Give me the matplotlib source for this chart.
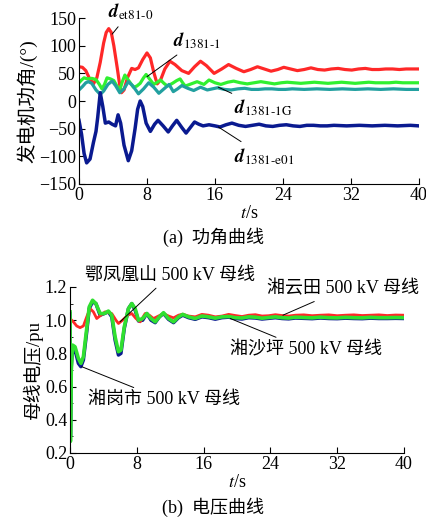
import matplotlib
matplotlib.use("Agg")
import matplotlib.pyplot as plt
from matplotlib.ticker import MultipleLocator

plt.rcParams['font.family'] = ['Liberation Serif', 'Noto Sans CJK SC']
plt.rcParams['mathtext.fontset'] = 'stix'
plt.rcParams['axes.unicode_minus'] = True

# ---- (a) power angle curves ----
t_red = [0, 0.4, 0.8, 1.2, 1.7, 2.1, 2.5, 2.9, 3.2, 3.5, 3.8, 4.1, 4.5, 4.8, 5.0, 5.3, 5.7, 6.2, 6.6, 7.0,
         7.5, 8.0, 8.4, 8.8, 9.2, 9.6, 10.1, 10.7, 11.3, 12.1, 12.9, 13.6, 14.3, 15.0, 15.9, 16.8, 17.6,
         18.5, 19.4, 20.2, 21.0, 21.8, 22.6, 23.4, 24.1, 24.9, 25.7, 26.5, 27.3, 28.1, 28.9, 29.7, 30.5,
         31.3, 32.1, 32.9, 33.7, 34.5, 35.3, 36.1, 36.9, 37.7, 38.5, 39.3, 40]
d_red = [62, 61, 55, 42, 31, 42, 70, 105, 124, 131, 124, 100, 60, 28, 15, 20, 42, 59, 57, 60,
         75, 87, 78, 52, 31, 38, 58, 72, 66, 55, 50, 62, 72, 64, 50, 58, 66,
         59, 53, 57, 62, 58, 54, 57, 61, 58, 55, 57, 60, 57, 56, 58, 59,
         57, 56, 58, 59, 57, 57, 58, 58, 57, 58, 58, 58]

t_grn = [0, 0.3, 0.6, 1.0, 1.5, 2.0, 2.4, 2.7, 3.0, 3.3, 3.7, 4.1, 4.5, 4.8, 5.1, 5.4, 5.8, 6.4, 6.8, 7.2,
         7.6, 7.9, 8.3, 8.8, 9.2, 9.6, 10.0, 10.4, 11.0, 11.5, 11.9, 12.2, 12.5, 13.2, 13.9, 14.7, 15.3,
         16.0, 16.7, 17.5, 18.2, 19.0, 19.8, 20.6, 21.4, 22.2, 23.0, 23.8, 24.5, 25.3, 26.1, 26.9, 27.7,
         28.5, 29.3, 30.1, 30.9, 31.7, 32.5, 33.3, 34.1, 34.9, 35.7, 36.5, 37.3, 38.1, 38.9, 39.7, 40]
d_grn = [33, 38, 42, 40, 41, 39, 30, 22, 30, 42, 40, 37, 26, 20, 35, 47, 38, 25, 27, 32,
         42, 48, 40, 30, 34, 38, 32, 27, 32, 37, 40, 33, 27, 31, 35, 30, 38,
         33, 30, 34, 36, 33, 31, 33, 35, 33, 31, 33, 34, 33, 32, 33, 34,
         33, 32, 33, 34, 33, 32, 33, 34, 33, 33, 33, 34, 33, 33, 33, 33]

t_teal = [0, 0.4, 0.8, 1.1, 1.5, 2.0, 2.5, 2.9, 3.4, 3.9, 4.3, 4.8, 5.3, 5.8, 6.3, 7.0, 7.6, 8.2, 8.8,
          9.4, 10.0, 10.6, 11.1, 11.6, 12.1, 12.8, 13.5, 14.3, 15.1, 15.7, 16.3, 17.1, 17.9, 18.7, 19.5,
          20.3, 21.1, 21.9, 22.7, 23.5, 24.3, 25.1, 26.5, 28.0, 29.5, 31.0, 32.5, 34.0, 35.5, 37.0, 38.5, 40]
d_teal = [20, 26, 33, 35, 32, 20, 12, 18, 30, 36, 28, 15, 22, 35, 28, 13, 22, 33, 25,
          14, 22, 30, 17, 22, 28, 23, 19, 25, 20, 22, 24, 21, 20, 22, 23,
          21, 21, 22, 22, 21, 21, 22, 21, 22, 21, 22, 21, 22, 21, 22, 21, 21]

t_blue = [0, 0.3, 0.6, 0.9, 1.3, 1.7, 2.0, 2.2, 2.5, 2.8, 3.1, 3.5, 3.9, 4.3, 4.6, 4.9, 5.3, 5.8, 6.2,
          6.6, 6.9, 7.2, 7.5, 7.9, 8.4, 8.9, 9.3, 9.9, 10.5, 11.0, 11.5, 12.1, 12.6, 13.1, 13.6, 14.1,
          14.6, 15.3, 16.0, 16.6, 17.3, 18.0, 18.8, 19.6, 20.4, 21.2, 22.0, 22.8, 23.6, 24.4, 25.2,
          26.0, 26.8, 27.6, 28.4, 29.2, 30.0, 31.5, 33.0, 34.5, 36.0, 37.5, 39.0, 40]
d_blue = [-35, -60, -95, -112, -105, -75, -55, -30, 15, -10, -40, -38, -42, -45, -25, -40, -80, -108, -90,
          -50, -15, 0, -10, -40, -55, -42, -35, -45, -56, -45, -35, -48, -58, -48, -38, -42,
          -45, -43, -45, -47, -43, -40, -44, -46, -44, -42, -45, -46, -44, -43, -45,
          -46, -44, -44, -45, -45, -44, -45, -44, -45, -44, -45, -44, -45]

# ---- (b) bus voltage curves ----
t_vg = [0, 0.05, 0.15, 0.3, 0.6, 1.0, 1.3, 1.6, 2.0, 2.3, 2.7, 3.1, 3.6, 4.1, 4.6, 5.0, 5.4, 5.8, 6.1,
        6.5, 7.0, 7.4, 7.8, 8.2, 8.7, 9.2, 9.7, 10.2, 10.7, 11.2, 11.8, 12.4, 13.0, 13.5, 14.2, 15.0,
        15.8, 16.6, 17.4, 18.2, 19.0, 19.8, 20.6, 21.4, 22.2, 23.0, 23.8, 24.6, 25.4, 26.2, 27.0,
        28.0, 29.0, 30.0, 31.0, 32.0, 33.0, 34.0, 35.0, 36.0, 37.0, 38.0, 39.0, 40]
v_grn = [1.05, 0.27, 0.70, 0.85, 0.84, 0.77, 0.74, 0.78, 0.95, 1.08, 1.12, 1.10, 1.04, 1.04, 1.055, 1.03,
         0.90, 0.81, 0.82, 0.96, 1.07, 1.10, 1.07, 1.00, 1.01, 1.04, 1.01, 0.99, 1.02, 1.045, 1.01, 0.99,
         1.02, 1.035, 1.02, 1.01, 1.025, 1.02, 1.012, 1.02, 1.022, 1.015, 1.013, 1.02, 1.018, 1.012,
         1.016, 1.02, 1.015, 1.013, 1.018, 1.016, 1.014, 1.018, 1.015, 1.014, 1.017, 1.015, 1.014, 1.017,
         1.015, 1.015, 1.016, 1.015]
v_blue = [1.04, 0.30, 0.72, 0.84, 0.82, 0.74, 0.72, 0.76, 0.93, 1.07, 1.11, 1.10, 1.03, 1.04, 1.05, 1.02,
          0.88, 0.79, 0.80, 0.95, 1.07, 1.10, 1.06, 0.995, 1.00, 1.04, 1.00, 0.985, 1.02, 1.04, 1.005, 0.985,
          1.015, 1.03, 1.015, 1.005, 1.02, 1.015, 1.006, 1.015, 1.018, 1.01, 1.007, 1.015, 1.013, 1.007,
          1.011, 1.015, 1.01, 1.008, 1.013, 1.011, 1.009, 1.013, 1.01, 1.009, 1.012, 1.01, 1.009, 1.012,
          1.01, 1.01, 1.011, 1.01]
t_vr = [0, 0.4, 0.8, 1.2, 1.6, 2.0, 2.4, 2.8, 3.2, 3.7, 4.2, 5.0, 5.5, 5.8, 6.3, 6.9, 7.4, 7.9, 8.4, 9.0,
        9.5, 10.0, 10.6, 11.2, 11.8, 12.4, 13.0, 13.5, 14.2, 15.0, 15.8, 16.6, 17.4, 18.2, 19.0, 19.8,
        20.6, 21.4, 22.2, 23.0, 23.8, 24.6, 25.4, 26.2, 27.0, 28.0, 29.0, 30.0, 31.0, 32.0, 33.0, 34.0,
        35.0, 36.0, 37.0, 38.0, 39.0, 40]
v_red = [1.01, 0.99, 0.965, 0.955, 0.965, 1.02, 1.07, 1.05, 1.01, 1.03, 1.05, 1.04, 1.00, 0.98, 1.00,
         1.03, 1.04, 1.01, 0.99, 1.04, 1.03, 1.01, 1.025, 1.04, 1.025, 1.014, 1.03, 1.036, 1.025, 1.02,
         1.035, 1.03, 1.02, 1.025, 1.035, 1.028, 1.022, 1.03, 1.033, 1.025, 1.027, 1.033, 1.028, 1.025,
         1.03, 1.032, 1.027, 1.03, 1.032, 1.027, 1.03, 1.032, 1.028, 1.03, 1.032, 1.028, 1.031, 1.03]

xticks = [0, 8, 16, 24, 32, 40]

fig = plt.figure(figsize=(4.27, 5.18), dpi=100)

ax1 = fig.add_axes([0.185, 0.645, 0.796, 0.32])
ax1.plot(t_red, d_red, color='#ff2828', lw=2.3)
ax1.plot(t_grn, d_grn, color='#30f030', lw=2.3)
ax1.plot(t_teal, d_teal, color='#22a0a0', lw=2.3)
ax1.plot(t_blue, d_blue, color='#0a1a90', lw=2.5)
ax1.set_xlim(0, 40)
ax1.set_ylim(-150, 150)
ax1.set_xticks(xticks)
ax1.set_yticks([-150, -100, -50, 0, 50, 100, 150])
ax1.set_ylabel('发电机功角/(°)', fontsize=14, labelpad=1)
ax1.set_xlabel('$t$/s', fontsize=13, labelpad=1)

arr = dict(arrowstyle='-', color='black', lw=0.7, shrinkA=2, shrinkB=0)
ax1.annotate(r'$\mathbfit{d}_{\mathrm{et81}\text{-}\mathrm{0}}$', xy=(3.9, 121), xytext=(3.4, 162),
             fontsize=13.5, va='center', annotation_clip=False, arrowprops=arr)
ax1.annotate(r'$\mathbfit{d}_{\mathrm{1381}\text{-}\mathrm{1}}$', xy=(8.0, 44), xytext=(11.1, 110),
             fontsize=13.5, va='center', arrowprops=arr)
ax1.annotate(r'$\mathbfit{d}_{\mathrm{1381}\text{-}\mathrm{1G}}$', xy=(16.4, 25), xytext=(18.2, -12),
             fontsize=13.5, va='center', arrowprops=arr)
ax1.annotate(r'$\mathbfit{d}_{\mathrm{1381}\text{-}\mathrm{e01}}$', xy=(16.4, -47), xytext=(18.2, -100),
             fontsize=13.5, va='center', arrowprops=arr)
fig.text(0.5, 0.542, '(a)  功角曲线', ha='center', va='center', fontsize=13)

ax2 = fig.add_axes([0.164, 0.1255, 0.782, 0.3205])
ax2.plot(t_vg, v_blue, color='#0a1a90', lw=2.5)
ax2.plot(t_vr, v_red, color='#ff2828', lw=2.0)
ax2.plot(t_vg, v_grn, color='#30e030', lw=2.6)
ax2.set_xlim(0, 40)
ax2.set_ylim(0.2, 1.2)
ax2.set_xticks(xticks)
ax2.set_yticks([0.2, 0.4, 0.6, 0.8, 1.0, 1.2])
ax2.set_yticklabels(['0.2', '0.4', '0.6', '0.8', '1.0', '1.2'])
ax2.yaxis.set_minor_locator(MultipleLocator(0.1))
ax2.set_ylabel('母线电压/pu', fontsize=13.5, labelpad=1)
ax2.set_xlabel('$t$/s', fontsize=13, labelpad=1)

lab = dict(fontsize=13, va='center', annotation_clip=False, arrowprops=arr)
ax2.annotate('鄂凤凰山 500 kV 母线', xy=(6.0, 0.99), xytext=(1.8, 1.272), **lab)
ax2.annotate('湘云田 500 kV 母线', xy=(25.5, 1.03), xytext=(23.6, 1.188), **lab)
ax2.annotate('湘沙坪 500 kV 母线', xy=(19.2, 1.01), xytext=(19.2, 0.822), **lab)
ax2.annotate('湘岗市 500 kV 母线', xy=(1.4, 0.72), xytext=(2.2, 0.52), **lab)
fig.text(0.5, 0.021, '(b)  电压曲线', ha='center', va='center', fontsize=13)

for ax in (ax1, ax2):
    ax.spines['top'].set_visible(False)
    ax.spines['right'].set_visible(False)
    ax.tick_params(axis='both', which='major', direction='in', length=4, labelsize=13, pad=2)
    ax.tick_params(axis='both', which='minor', direction='in', length=2.5)

fig.savefig('out.png', dpi=100)
